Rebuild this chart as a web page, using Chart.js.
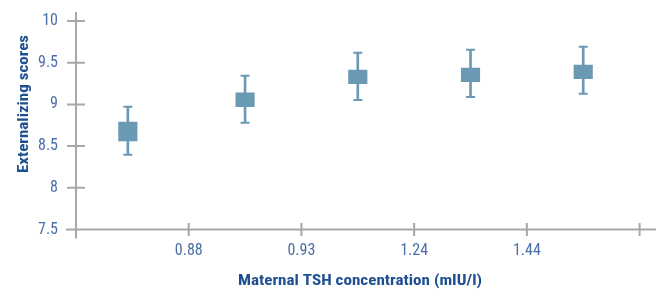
<!DOCTYPE html>
<html lang="en">
<head>
  <meta charset="UTF-8" />
  <title>Externalizing scores by maternal TSH</title>
  <script src="https://cdn.jsdelivr.net/npm/chart.js"></script>
  <style>
    body {
      margin: 0;
      background: #ffffff;
    }
    .wrap {
      position: relative;
      width: 656px;
      height: 291px;
    }
  </style>
</head>
<body>

<div class="wrap">
  <canvas id="chart"></canvas>
</div>

<script>
  // group positions along the TSH axis (quintile groups sit between the cut-offs)
  const groupPos = [0.46, 1.5, 2.5, 3.5, 4.5];
  // mean box (low / high) and error bar (low / high) per group
  const boxLow = [8.561, 8.972, 9.248, 9.272, 9.308];
  const boxHigh = [8.789, 9.140, 9.412, 9.436, 9.472];
  const errLow = [8.397, 8.781, 9.053, 9.089, 9.128];
  const errHigh = [8.972, 9.344, 9.620, 9.656, 9.692];

  // x axis cut-off ticks and their labels
  const xTickValues = [0, 1, 2, 3, 4, 5];
  const xTickLabels = ['', '0.88', '0.93', '1.24', '1.44', ''];
  const yTicks = [7.5, 8, 8.5, 9, 9.5, 10];

  const yTitle = 'Externalizing scores';
  const xTitle = 'Maternal TSH concentration (mIU/l)';

  const markColor = '#6a99b4';
  const axisColor = '#a8a8a8';
  const tickColor = '#4a6ea8';
  const titleColor = '#1d4f91';
  const fontFamily = "'Roboto Condensed', 'Liberation Sans Narrow', Roboto, sans-serif";

  // draw a title stretched to the width it has in the original
  function wideText(ctx, text, x, y, width, rotate) {
    ctx.save();
    ctx.translate(x, y);
    if (rotate) ctx.rotate(-Math.PI / 2);
    const w = ctx.measureText(text).width;
    ctx.scale(width / w, 1);
    ctx.fillText(text, 0, 0);
    ctx.restore();
  }

  // axes lines, crossing tick marks and axis titles
  const axesPlugin = {
    id: 'axesPlugin',
    afterDraw(chart) {
      const ctx = chart.ctx;
      const xs = chart.scales.x;
      const ys = chart.scales.y;
      const x0 = xs.getPixelForValue(0);
      const y0 = ys.getPixelForValue(7.5);

      ctx.save();
      ctx.strokeStyle = axisColor;
      ctx.lineWidth = 2;
      ctx.beginPath();
      // y axis
      ctx.moveTo(x0, 12);
      ctx.lineTo(x0, y0 + 9);
      // x axis
      ctx.moveTo(x0 - 10, y0);
      ctx.lineTo(chart.width, y0);
      yTicks.forEach(v => {
        const y = ys.getPixelForValue(v);
        ctx.moveTo(x0 - 9, y);
        ctx.lineTo(x0 + 9, y);
      });
      xTickValues.slice(1).forEach(v => {
        const x = xs.getPixelForValue(v);
        ctx.moveTo(x, y0 - 6.5);
        ctx.lineTo(x, y0 + 6.5);
      });
      ctx.stroke();

      ctx.fillStyle = titleColor;
      ctx.font = 'bold 15px ' + fontFamily;
      ctx.textAlign = 'center';
      ctx.textBaseline = 'alphabetic';
      wideText(ctx, xTitle, 360, 285, 244, false);
      wideText(ctx, yTitle, 27.7, 104, 138, true);
      ctx.restore();
    }
  };

  const boxData = groupPos.map((x, i) => ({ x: x, y: [boxLow[i], boxHigh[i]] }));
  const errData = groupPos.map((x, i) => ({ x: x, y: [errLow[i], errHigh[i]] }));
  const capData = [];
  groupPos.forEach((x, i) => {
    capData.push({ x: x, y: errLow[i] });
    capData.push({ x: x, y: errHigh[i] });
  });

  new Chart(document.getElementById('chart'), {
    type: 'scatter',
    data: {
      datasets: [
        {
          type: 'bar',
          label: 'Mean',
          data: boxData,
          backgroundColor: markColor,
          barThickness: 18.5,
          grouped: false,
          order: 1
        },
        {
          type: 'scatter',
          label: 'Caps',
          data: capData,
          pointStyle: 'line',
          radius: 4.5,
          borderWidth: 2,
          borderColor: markColor,
          order: 2
        },
        {
          type: 'bar',
          label: 'Error',
          data: errData,
          backgroundColor: markColor,
          barThickness: 2,
          grouped: false,
          order: 3
        }
      ]
    },
    options: {
      responsive: true,
      maintainAspectRatio: false,
      animation: false,
      layout: { padding: { top: 12.7, left: 0, right: 0, bottom: 0 } },
      plugins: {
        legend: { display: false },
        tooltip: { enabled: false }
      },
      scales: {
        x: {
          type: 'linear',
          offset: false,
          min: 0,
          max: 5.088,
          grid: { display: false, drawTicks: false },
          border: { display: false },
          afterBuildTicks: s => { s.ticks = xTickValues.map(v => ({ value: v })); },
          afterFit: s => {
            s.height = 61.5;
            s.paddingLeft = 0;
            s.paddingRight = 0;
          },
          ticks: {
            padding: 12,
            maxRotation: 0,
            autoSkip: false,
            color: tickColor,
            font: { family: fontFamily, size: 16 },
            callback: (v, i) => xTickLabels[i]
          }
        },
        y: {
          min: 7.5,
          max: 10.1,
          grid: { display: false, drawTicks: false },
          border: { display: false },
          afterBuildTicks: s => { s.ticks = yTicks.map(v => ({ value: v })); },
          afterFit: s => {
            s.width = 76;
            s.paddingTop = 0;
            s.paddingBottom = 0;
          },
          ticks: {
            padding: 18,
            color: tickColor,
            font: { family: fontFamily, size: 16 },
            callback: v => String(v)
          }
        }
      }
    },
    plugins: [axesPlugin]
  });
</script>

</body>
</html>
